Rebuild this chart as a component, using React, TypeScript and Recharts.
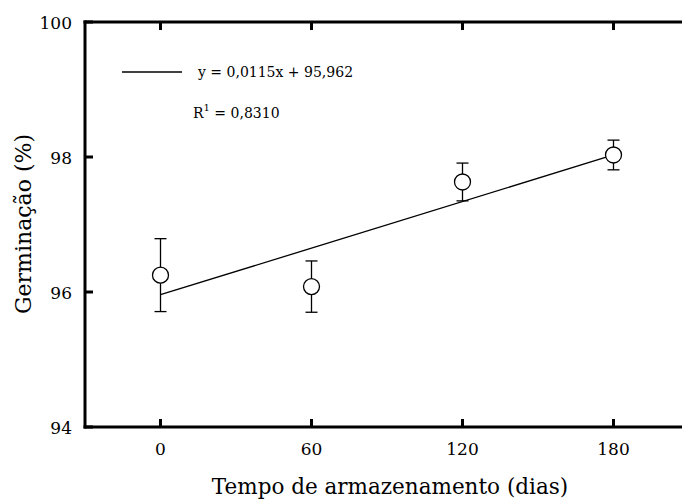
import {
  ComposedChart,
  Customized,
  ErrorBar,
  Line,
  Scatter,
  XAxis,
  YAxis,
} from "recharts";

const days = [0, 60, 120, 180];
const germination = [96.25, 96.08, 97.63, 98.03];
const errors = [0.54, 0.38, 0.28, 0.22];
const trend = [95.96, null, null, 98.03];
const xTicks = [0, 60, 120, 180];
const yTicks = [94, 96, 98, 100];

const data = days.map((d, i) => ({
  day: d,
  germ: germination[i],
  err: errors[i],
  trend: trend[i],
}));

const FONT = "DejaVu Serif";

const BottomTick = ({ x, y, payload }: any) => (
  <g>
    <line x1={x} y1={y} x2={x} y2={y - 8} stroke="#000" strokeWidth={3} />
    <text
      x={x}
      y={y + 28}
      textAnchor="middle"
      fontFamily={FONT}
      fontSize={17}
      fill="#000"
    >
      {payload.value}
    </text>
  </g>
);

const LeftTick = ({ x, y, payload }: any) => (
  <g>
    <line x1={x} y1={y} x2={x + 8} y2={y} stroke="#000" strokeWidth={3} />
    <text
      x={x - 13}
      y={y + 7}
      textAnchor="end"
      fontFamily={FONT}
      fontSize={17}
      fill="#000"
    >
      {payload.value}
    </text>
  </g>
);

const TopTick = ({ x, y }: any) => (
  <line x1={x} y1={y} x2={x} y2={y + 8} stroke="#000" strokeWidth={3} />
);

const RightTick = ({ x, y }: any) => (
  <line x1={x} y1={y} x2={x - 8} y2={y} stroke="#000" strokeWidth={3} />
);

const Dot = ({ cx, cy }: any) => (
  <circle cx={cx} cy={cy} r={8} fill="#fff" stroke="#000" strokeWidth={1.3} />
);

const Labels = () => (
  <g>
    <line x1={122} y1={72} x2={182} y2={72} stroke="#000" strokeWidth={1.3} />
    <text x={198} y={77} fontSize={14} fontFamily={FONT} fill="#000">
      y = 0,0115x + 95,962
    </text>
    <text x={193} y={118} fontSize={14} fontFamily={FONT} fill="#000">
      R<tspan dy={-7} fontSize={10}>1</tspan>
      <tspan dy={7}> = 0,8310</tspan>
    </text>
    <text
      x={390}
      y={494}
      textAnchor="middle"
      fontSize={21.5}
      fontFamily={FONT}
      fill="#000"
    >
      Tempo de armazenamento (dias)
    </text>
    <text
      transform="translate(31, 224) rotate(-90)"
      textAnchor="middle"
      fontSize={22}
      fontFamily={FONT}
      fill="#000"
    >
      Germinação (%)
    </text>
  </g>
);

const axisStroke = { stroke: "#000", strokeWidth: 3, strokeLinecap: "square" };

export default function App() {
  return (
    <div
      style={{
        position: "absolute",
        left: 0,
        top: 0,
        width: 682,
        height: 501,
        overflow: "hidden",
        background: "#fff",
      }}
    >
      <ComposedChart
        width={690}
        height={501}
        data={data}
        margin={{ top: 21, left: 84, right: 0, bottom: 73 }}
      >
        <XAxis
          dataKey="day"
          type="number"
          domain={[-30, 210]}
          ticks={xTicks}
          height={1}
          tickSize={0}
          tickMargin={0}
          tickLine={false}
          axisLine={axisStroke}
          tick={<BottomTick />}
          interval={0}
        />
        <XAxis
          xAxisId="top"
          dataKey="day"
          orientation="top"
          type="number"
          domain={[-30, 210]}
          ticks={xTicks}
          height={1}
          tickSize={0}
          tickMargin={0}
          tickLine={false}
          axisLine={axisStroke}
          tick={<TopTick />}
          interval={0}
        />
        <YAxis
          type="number"
          domain={[94, 100]}
          ticks={yTicks}
          width={1}
          tickSize={0}
          tickMargin={0}
          tickLine={false}
          axisLine={axisStroke}
          tick={<LeftTick />}
          interval={0}
        />
        <YAxis
          yAxisId="right"
          orientation="right"
          type="number"
          domain={[94, 100]}
          ticks={yTicks}
          width={1}
          tickSize={0}
          tickMargin={0}
          tickLine={false}
          axisLine={axisStroke}
          tick={<RightTick />}
          interval={0}
        />
        <Line
          dataKey="trend"
          connectNulls
          stroke="#000"
          strokeWidth={1.3}
          dot={false}
          activeDot={false}
          isAnimationActive={false}
        />
        <Scatter dataKey="germ" shape={<Dot />} isAnimationActive={false}>
          <ErrorBar
            dataKey="err"
            direction="y"
            width={6}
            stroke="#000"
            strokeWidth={1.3}
          />
        </Scatter>
        <Customized component={Labels} />
      </ComposedChart>
    </div>
  );
}
